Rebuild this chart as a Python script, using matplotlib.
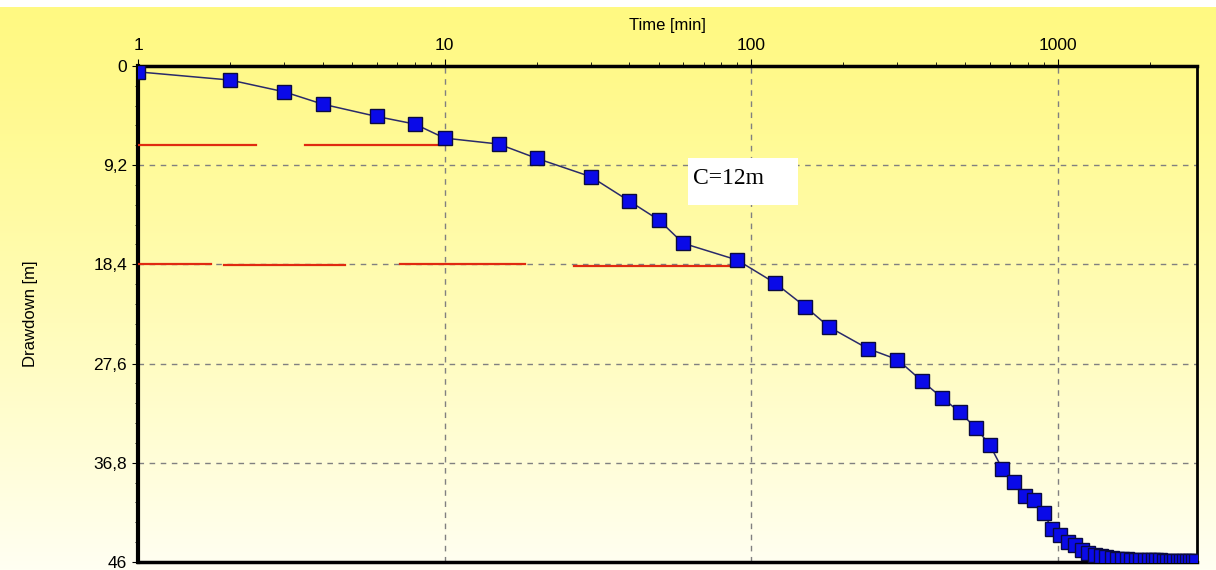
import matplotlib
matplotlib.use("Agg")
import matplotlib.pyplot as plt
import numpy as np
from matplotlib.patches import Rectangle
from matplotlib.ticker import LogLocator, NullFormatter, MultipleLocator, FixedLocator

plt.rcParams['font.family'] = ['Liberation Sans', 'DejaVu Sans']

# pumping test, time since start [min]
time_min = [1, 2, 3, 4, 6, 8, 10, 15, 20, 30, 40, 50, 60, 90,
            120, 150, 180, 240, 300, 360, 420, 480, 540,
            600, 660, 720, 780, 840, 900, 960, 1020, 1080, 1140, 1200,
            1260, 1320, 1380, 1440, 1500, 1560, 1620, 1680, 1740,
            1800, 1860, 1920, 1980, 2040, 2100, 2160, 2220, 2280,
            2340, 2400, 2460, 2520, 2580, 2640, 2700, 2760, 2820]
# drawdown [m]
drawdown_m = [0.56, 1.32, 2.41, 3.55, 4.69, 5.40, 6.70, 7.25, 8.58, 10.28, 12.53, 14.29, 16.45, 18.0,
              20.16, 22.32, 24.23, 26.21, 27.23, 29.2, 30.78, 32.12, 33.56,
              35.13, 37.38, 38.58, 39.86, 40.26, 41.46, 42.97, 43.5, 44.16, 44.44, 44.86,
              45.14, 45.32, 45.45, 45.55, 45.62, 45.68, 45.72, 45.75, 45.78,
              45.8, 45.81, 45.82, 45.83, 45.84, 45.85, 45.85, 45.86, 45.86,
              45.87, 45.87, 45.87, 45.88, 45.88, 45.88, 45.88, 45.89, 45.89]

# red hand-drawn marks (level, start time, end time)
red_level = [7.3, 7.3, 18.4, 18.45, 18.4, 18.55]
red_t0 = [1.0, 3.5, 1.0, 1.91, 7.16, 26.5]
red_t1 = [2.43, 10.0, 1.73, 4.73, 18.3, 89.4]

y_ticks = [0, 9.2, 18.4, 27.6, 36.8, 46]
y_labels = ["0", "9,2", "18,4", "27,6", "36,8", "46"]
x_ticks = [1, 10, 100, 1000]
x_labels = ["1", "10", "100", "1000"]

fig = plt.figure(figsize=(12.16, 5.70), dpi=100)

# yellow -> white background gradient
bg = fig.add_axes([0, 0, 1, 1], zorder=-10)
top = np.array([255, 249, 130]) / 255.0
bot = np.array([255, 255, 242]) / 255.0
t = np.linspace(0, 1, 256)[:, None] ** 1.2
grad = top[None, :] * (1 - t) + bot[None, :] * t
bg.imshow(grad[:, None, :], aspect='auto', extent=[0, 1, 0, 1 - 7 / 570])
bg.set_xlim(0, 1)
bg.set_ylim(0, 1)
bg.axis("off")

ax = fig.add_axes([0.1135, 0.014, 0.871, 0.8705])
ax.set_facecolor("none")
ax.set_xscale("log")
ax.set_xlim(1, 2850)
ax.set_ylim(46, 0)

ax.grid(True, which="major", ls=(0, (4, 4)), color="#808080", lw=1)

for y0, a, b in zip(red_level, red_t0, red_t1):
    ax.plot([a, b], [y0, y0], color="#e02a10", lw=1.6, zorder=3)

ax.plot(time_min, drawdown_m, color="#2a2a6a", lw=1.1, marker="s", ms=10.5,
        mfc="#0a0ae8", mec="#0a0a40", mew=1.0, zorder=4)

# note box
ax.add_patch(Rectangle((0.519, 0.719), 0.104, 0.095, transform=ax.transAxes,
                       facecolor="white", edgecolor="none", zorder=5))
ax.text(0.524, 0.772, "C=12m", transform=ax.transAxes, fontsize=17,
        family=["Liberation Serif", "DejaVu Serif"], va="center", ha="left", zorder=6)

ax.xaxis.set_major_locator(FixedLocator(x_ticks))
ax.set_xticklabels(x_labels)
ax.xaxis.set_minor_locator(LogLocator(base=10, subs=np.arange(2, 10)))
ax.xaxis.set_minor_formatter(NullFormatter())
ax.set_yticks(y_ticks)
ax.set_yticklabels(y_labels)
ax.yaxis.set_minor_locator(MultipleLocator(1.84))

ax.tick_params(axis="x", which="both", top=True, bottom=False, labeltop=True,
               labelbottom=False, direction="out", labelsize=12.5, colors="black")
ax.tick_params(axis="x", which="major", length=5, pad=4)
ax.tick_params(axis="x", which="minor", length=3)
ax.tick_params(axis="y", which="major", length=4, labelsize=12.5, pad=4)
ax.tick_params(axis="y", which="minor", length=2)

ax.xaxis.set_label_position("top")
ax.set_xlabel("Time [min]", fontsize=12, labelpad=6)
ax.set_ylabel("Drawdown [m]", fontsize=12, labelpad=40)

ax.spines["left"].set_linewidth(3)
ax.spines["top"].set_linewidth(2.5)
ax.spines["bottom"].set_linewidth(2.5)
ax.spines["right"].set_linewidth(2)

fig.savefig("out.png", dpi=100)
